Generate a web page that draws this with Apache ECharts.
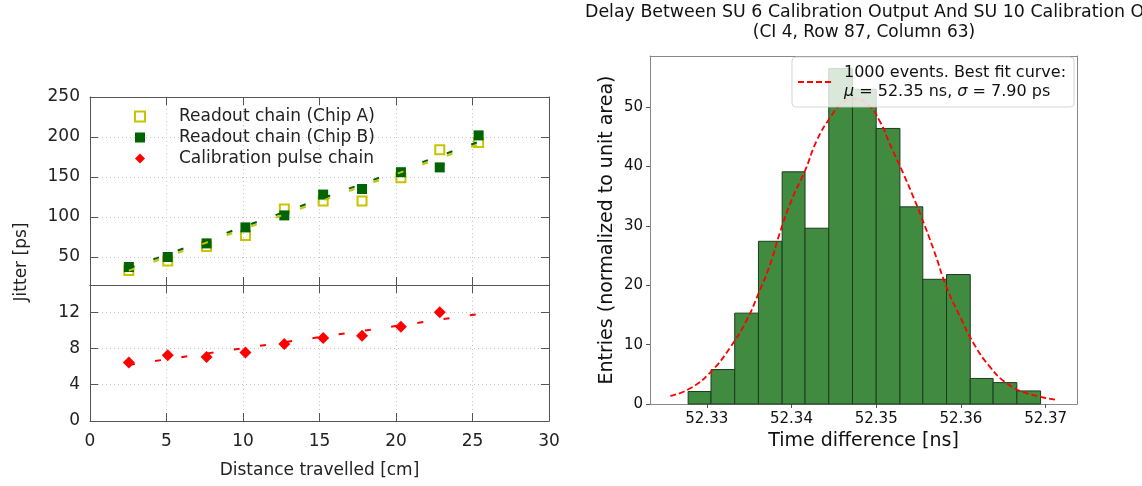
<!DOCTYPE html>
<html>
<head>
<meta charset="utf-8">
<title>Jitter vs distance / calibration delay histogram</title>
<script src="https://cdn.jsdelivr.net/npm/echarts@6/dist/echarts.min.js"></script>
<style>
  html, body { margin: 0; padding: 0; background: #fff; }
  #chart { width: 1142px; height: 486px; }
</style>
</head>
<body>
<div id="chart"></div>
<script>
// ---- left: jitter vs distance travelled ----
const distance = [2.54, 5.08, 7.62, 10.16, 12.7, 15.24, 17.78, 20.32, 22.86, 25.4];
const jitterChipA = [33, 45, 63, 77, 110, 120, 120, 149, 184, 193];
const jitterChipB = [37.5, 50, 67, 87, 102, 128, 135, 156, 162, 202];
const distanceCal = [2.54, 5.08, 7.62, 10.16, 12.7, 15.24, 17.78, 20.32, 22.86];
const jitterCal = [6.45, 7.25, 7.05, 7.55, 8.5, 9.15, 9.4, 10.4, 12.0];
// linear fits (end points)
const fitChipA = [[2.54, 33], [25.4, 191]];
const fitChipB = [[2.54, 36], [25.4, 194]];
const fitCal = [[2.54, 6.2], [25.4, 11.8]];
const jitterTicksTop = [50, 100, 150, 200, 250];
const jitterTicksBottom = [0, 4, 8, 12];

// ---- right: delay histogram ----
const binEdges = [52.3278, 52.3305, 52.3333, 52.3361, 52.3389, 52.3416, 52.3444, 52.3472,
  52.3500, 52.3528, 52.3555, 52.3583, 52.3611, 52.3638, 52.3666, 52.3694];
const binDensity = [2.1, 5.8, 15.3, 27.4, 39.1, 29.6, 56.5, 53.0, 46.4, 33.2, 21.0, 21.8, 4.3, 3.6, 2.2];
const fitCurveX = [52.3257, 52.3280, 52.3304, 52.3328, 52.3347, 52.3361, 52.3375, 52.3386, 52.3400,
  52.3416, 52.3430, 52.3446, 52.3461, 52.3475, 52.3491, 52.3505, 52.3516, 52.3532, 52.3544,
  52.3552, 52.3568, 52.3583, 52.3599, 52.3615, 52.3634, 52.3654, 52.3678, 52.3713];
const fitCurveY = [1.35, 2.6, 5.3, 9.6, 14.1, 18.6, 23.6, 28.7, 34.3,
  39.3, 44.4, 48.3, 50.8, 51.4, 50.3, 47.4, 43.8, 38.8, 34.8,
  32.0, 25.9, 19.7, 14.7, 10.2, 6.3, 3.5, 1.8, 0.7];
const timeTicks = [52.33, 52.34, 52.35, 52.36, 52.37];
const densityTicks = [0, 10, 20, 30, 40, 50];

const leftText = '#222';
const leftAxisColor = '#555';
const gridLine = { show: true, lineStyle: { color: '#c4c4c4', type: [1, 3], width: 1 } };

// gnuplot-like axis: ticks on the inside, mirrored on every side
function leftAxis(extra) {
  return Object.assign({
    type: 'value',
    axisLine: { show: true, onZero: false, lineStyle: { color: leftAxisColor, width: 1 } },
    axisTick: { show: true, inside: true, length: 8, lineStyle: { color: leftAxisColor } },
    axisLabel: { show: false },
    splitLine: { show: false }
  }, extra);
}

function insideTicks(values) {
  return { show: true, inside: true, length: 8, lineStyle: { color: leftAxisColor }, customValues: values };
}

const chart = echarts.init(document.getElementById('chart'));

const option = {
  animation: false,
  backgroundColor: '#fff',
  textStyle: { fontFamily: 'DejaVu Sans' },
  title: [
    {
      text: 'Delay Between SU 6 Calibration Output And SU 10 Calibration Output',
      left: 585, top: 4, padding: 0,
      textStyle: { fontSize: 17.4, fontWeight: 'normal', color: '#111', fontFamily: 'DejaVu Sans' }
    },
    {
      text: '(CI 4, Row 87, Column 63)',
      left: 864, top: 24, padding: 0, textAlign: 'center',
      textStyle: { fontSize: 17, fontWeight: 'normal', color: '#111', fontFamily: 'DejaVu Sans' }
    }
  ],
  legend: [
    {
      data: ['Readout chain (Chip A)', 'Readout chain (Chip B)', 'Calibration pulse chain'],
      orient: 'vertical',
      left: 134, top: 106, padding: 0, itemGap: 0,
      itemWidth: 10, itemHeight: 10,
      selectedMode: false,
      textStyle: { fontSize: 17, color: leftText, lineHeight: 21, padding: [0, 0, 0, 29], fontFamily: 'DejaVu Sans' }
    },
    {
      data: ['fit'],
      left: 792, top: 57,
      padding: [6, 8, 6, 5],
      itemWidth: 33, itemHeight: 14,
      selectedMode: false,
      itemStyle: { opacity: 0 },
      backgroundColor: 'rgba(255,255,255,0.8)',
      borderColor: 'rgba(204,204,204,0.8)', borderWidth: 1, borderRadius: 4,
      formatter: () => '1000 events. Best fit curve:\n{i|μ} = 52.35 ns, {i|σ} = 7.90 ps',
      textStyle: {
        fontSize: 16, color: '#111', lineHeight: 19, padding: [0, 0, 0, 8], fontFamily: 'DejaVu Sans',
        rich: { i: { fontStyle: 'italic', fontSize: 16, lineHeight: 19, color: '#111' } }
      }
    }
  ],
  grid: [
    { left: 90, top: 97, width: 459, height: 188 },
    { left: 90, top: 285, width: 459, height: 136 },
    { left: 650, top: 56, width: 427, height: 348 }
  ],
  xAxis: [
    leftAxis({ gridIndex: 0, min: 0, max: 30, interval: 5, splitLine: gridLine }),
    leftAxis({ gridIndex: 0, min: 0, max: 30, interval: 5, position: 'top' }),
    leftAxis({
      gridIndex: 1, min: 0, max: 30, interval: 5, splitLine: gridLine,
      axisLabel: { show: true, margin: 12, fontSize: 17, color: leftText },
      name: 'Distance travelled [cm]', nameLocation: 'middle', nameGap: 41,
      nameTextStyle: { fontSize: 17, color: leftText }
    }),
    leftAxis({ gridIndex: 1, min: 0, max: 30, interval: 5, position: 'top' }),
    {
      type: 'value', gridIndex: 2, min: 52.3233, max: 52.3737,
      axisLine: { onZero: false, lineStyle: { color: '#888' } },
      axisTick: { length: 4, lineStyle: { color: '#555' }, customValues: timeTicks },
      axisLabel: {
        fontSize: 15, color: '#111', margin: 8, customValues: timeTicks,
        formatter: v => v.toFixed(2)
      },
      splitLine: { show: false },
      name: 'Time difference [ns]', nameLocation: 'middle', nameGap: 28,
      nameTextStyle: { fontSize: 19, color: '#111' }
    },
    {
      type: 'value', gridIndex: 2, min: 52.3233, max: 52.3737, position: 'top',
      axisLine: { show: true, onZero: false, lineStyle: { color: '#888' } },
      axisTick: { show: false }, axisLabel: { show: false }, splitLine: { show: false }
    }
  ],
  yAxis: [
    leftAxis({
      gridIndex: 0, min: 15, max: 250, splitNumber: 5,
      axisTick: insideTicks(jitterTicksTop),
      axisLabel: { show: true, margin: 10, fontSize: 17, color: leftText, customValues: jitterTicksTop },
      splitLine: gridLine
    }),
    leftAxis({ gridIndex: 0, min: 15, max: 250, position: 'right', axisTick: insideTicks(jitterTicksTop) }),
    leftAxis({
      gridIndex: 1, min: 0, max: 15, interval: 4,
      axisTick: insideTicks(jitterTicksBottom),
      axisLabel: { show: true, margin: 10, fontSize: 17, color: leftText, customValues: jitterTicksBottom },
      splitLine: gridLine
    }),
    leftAxis({ gridIndex: 1, min: 0, max: 15, interval: 4, position: 'right', axisTick: insideTicks(jitterTicksBottom) }),
    {
      type: 'value', gridIndex: 2, min: 0, max: 58.6, interval: 10,
      axisLine: { show: true, onZero: false, lineStyle: { color: '#888' } },
      axisTick: { show: true, length: 4, lineStyle: { color: '#555' }, customValues: densityTicks },
      axisLabel: { fontSize: 15, color: '#111', margin: 7, customValues: densityTicks },
      splitLine: { show: false },
      name: 'Entries (normalized to unit area)', nameLocation: 'middle', nameGap: 33,
      nameTextStyle: { fontSize: 19, color: '#111' }
    },
    {
      type: 'value', gridIndex: 2, min: 0, max: 58.6, position: 'right',
      axisLine: { show: true, onZero: false, lineStyle: { color: '#888' } },
      axisTick: { show: false }, axisLabel: { show: false }, splitLine: { show: false }
    }
  ],
  graphic: [
    {
      type: 'text', x: 22, y: 262, rotation: Math.PI / 2,
      style: {
        text: 'Jitter [ps]', fontSize: 17, fill: leftText, fontFamily: 'DejaVu Sans',
        align: 'center', verticalAlign: 'middle'
      }
    }
  ],
  series: [
    {
      name: 'fitA', type: 'line', xAxisIndex: 0, yAxisIndex: 0,
      data: fitChipA, showSymbol: false, silent: true,
      lineStyle: { color: '#c9c400', width: 2, type: [6, 20] }
    },
    {
      name: 'fitB', type: 'line', xAxisIndex: 0, yAxisIndex: 0,
      data: fitChipB, showSymbol: false, silent: true,
      lineStyle: { color: '#006400', width: 2, type: [6, 20] }
    },
    {
      name: 'Readout chain (Chip A)', type: 'scatter', xAxisIndex: 0, yAxisIndex: 0,
      data: distance.map((d, i) => [d, jitterChipA[i]]),
      symbol: 'rect', symbolSize: 9,
      itemStyle: { color: 'rgba(255,255,255,0)', borderColor: '#c9c400', borderWidth: 2, opacity: 1 }
    },
    {
      name: 'Readout chain (Chip B)', type: 'scatter', xAxisIndex: 0, yAxisIndex: 0,
      data: distance.map((d, i) => [d, jitterChipB[i]]),
      symbol: 'rect', symbolSize: 10,
      itemStyle: { color: '#006400', opacity: 1 }
    },
    {
      name: 'fitCal', type: 'line', xAxisIndex: 2, yAxisIndex: 2,
      data: fitCal, showSymbol: false, silent: true,
      lineStyle: { color: '#ff0000', width: 2, type: [6, 20.5] }
    },
    {
      name: 'Calibration pulse chain', type: 'scatter', xAxisIndex: 2, yAxisIndex: 2,
      data: distanceCal.map((d, i) => [d, jitterCal[i]]),
      symbol: 'diamond', symbolSize: 12,
      itemStyle: { color: '#ff0000', opacity: 1 }
    },
    {
      name: 'histogram', type: 'custom', xAxisIndex: 4, yAxisIndex: 4,
      data: binDensity.map((h, i) => [binEdges[i], binEdges[i + 1], h]),
      encode: { x: [0, 1], y: 2 },
      renderItem: function (params, api) {
        const p0 = api.coord([api.value(0), 0]);
        const p1 = api.coord([api.value(1), api.value(2)]);
        return {
          type: 'rect',
          shape: { x: p0[0], y: p1[1], width: p1[0] - p0[0], height: p0[1] - p1[1] },
          style: { fill: '#408b40', stroke: '#1e3a1e', lineWidth: 1 }
        };
      }
    },
    {
      name: 'fit', type: 'line', xAxisIndex: 4, yAxisIndex: 4,
      data: fitCurveX.map((x, i) => [x, fitCurveY[i]]),
      smooth: true, showSymbol: false, symbol: 'none',
      lineStyle: { color: '#ff0000', width: 1.8, type: [6, 3] },
      itemStyle: { color: '#ff0000' }
    }
  ]
};

chart.setOption(option);
</script>
</body>
</html>
